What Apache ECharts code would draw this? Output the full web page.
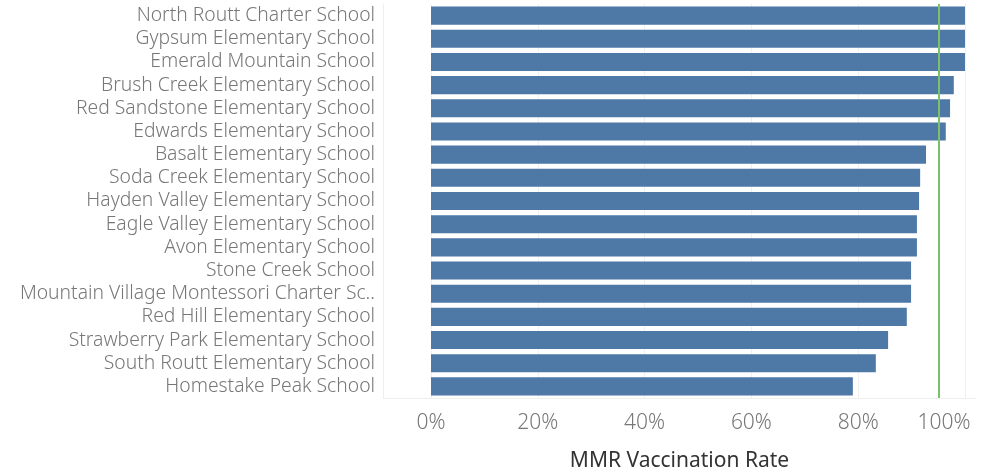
<!DOCTYPE html>
<html>
<head>
<meta charset="utf-8">
<script src="https://cdn.jsdelivr.net/npm/echarts@6/dist/echarts.min.js"></script>
<style>html,body{margin:0;padding:0;background:#fff}#c{width:992px;height:472px}</style>
</head>
<body>
<div id="c"></div>
<script>
const schools = [
  "North Routt Charter School",
  "Gypsum Elementary School",
  "Emerald Mountain School",
  "Brush Creek Elementary School",
  "Red Sandstone Elementary School",
  "Edwards Elementary School",
  "Basalt Elementary School",
  "Soda Creek Elementary School",
  "Hayden Valley Elementary School",
  "Eagle Valley Elementary School",
  "Avon Elementary School",
  "Stone Creek School",
  "Mountain Village Montessori Charter Sc..",
  "Red Hill Elementary School",
  "Strawberry Park Elementary School",
  "South Routt Elementary School",
  "Homestake Peak School"
];
const mmrRate = [1.0, 1.0, 1.0, 0.979, 0.972, 0.964, 0.927, 0.916, 0.914, 0.910, 0.910, 0.899, 0.899, 0.891, 0.856, 0.833, 0.790];
const targetRate = 0.95;

const chart = echarts.init(document.getElementById('c'), null, {renderer: 'canvas'});
const font = '"Noto Sans", "Open Sans", sans-serif';
chart.setOption({
  animation: false,
  grid: [
    {left: 431, right: 27, top: 4, bottom: 74, outerBoundsMode: 'none', containLabel: false},
    {left: 383, right: 16, top: 4, bottom: 74, outerBoundsMode: 'none', containLabel: false}
  ],
  xAxis: [
    {
      type: 'value', gridIndex: 0, min: 0, max: 1, interval: 0.2,
      axisLine: {show: false},
      axisTick: {show: false},
      splitLine: {show: true, lineStyle: {color: '#f0f0f0', width: 1}},
      axisLabel: {
        margin: 15, fontSize: 21, fontWeight: 300, color: '#777', fontFamily: font,
        formatter: v => v >= 1 ? '{e|' + Math.round(v * 100) + '%}' : Math.round(v * 100) + '%',
        rich: {e: {fontSize: 21, fontWeight: 300, color: '#777', fontFamily: font, padding: [0, 42, 0, 0]}}
      }
    },
    {
      type: 'value', gridIndex: 1, min: 0, max: 1,
      name: 'MMR Vaccination Rate', nameLocation: 'middle', nameGap: 53,
      nameTextStyle: {fontSize: 21, color: '#333', fontFamily: font},
      axisLine: {show: true, lineStyle: {color: '#eeeeee'}},
      axisTick: {show: false},
      splitLine: {show: false},
      axisLabel: {show: false}
    }
  ],
  yAxis: [
    {
      type: 'category', gridIndex: 0, data: schools, inverse: true,
      axisLine: {show: false}, axisTick: {show: false}, axisLabel: {show: false}
    },
    {
      type: 'category', gridIndex: 1, data: schools, inverse: true,
      axisLine: {show: true, lineStyle: {color: '#eeeeee'}},
      axisTick: {show: false},
      axisLabel: {interval: 0, fontSize: 19.3, fontWeight: 300, color: '#777', fontFamily: font, margin: 8}
    }
  ],
  series: [
    {
      type: 'bar', xAxisIndex: 0, yAxisIndex: 0, data: mmrRate, z: 2,
      barCategoryGap: '22%',
      itemStyle: {color: '#4e79a7'},
      markLine: {
        silent: true, symbol: 'none', animation: false,
        label: {show: false},
        lineStyle: {color: '#79c26b', type: 'solid', width: 2},
        data: [{xAxis: targetRate}]
      }
    }
  ]
});
</script>
</body>
</html>
